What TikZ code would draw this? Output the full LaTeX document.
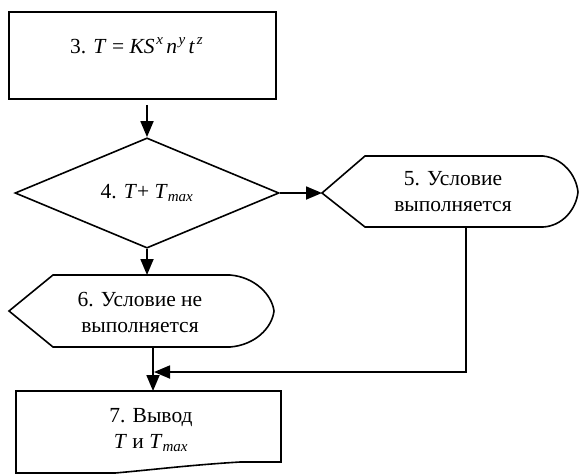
\documentclass[tikz,border=0pt]{standalone}
\usepackage{fontspec}
\setmainfont{Liberation Serif}
\usepackage{xcolor}
\usepackage{tikz}
\usetikzlibrary{arrows.meta,shapes.geometric,calc}
\definecolor{ink}{HTML}{000000}
\newcommand{\pw}[1]{\hspace{0.08em}\raisebox{0.42em}{\fontsize{15}{15}\selectfont\textit{#1}}\hspace{0.15em}}
\tikzset{
  base/.style={draw=ink, line width=1.6pt, line join=miter},
  flow/.style={draw=ink, line width=1.8pt, -{Triangle[length=16pt,width=13pt]}},
  lab/.style={text=ink, font=\fontsize{21.5}{26}\selectfont, align=center, inner sep=0pt},
}

\begin{document}
\begin{tikzpicture}[x=1pt,y=-1pt]
  \useasboundingbox (0,0) rectangle (580,475);
  % step 3
  \node[base, minimum width=267pt, minimum height=87pt, inner sep=0pt] (b3) at (142.5,55.5) {};
  \node[lab] (t3) at (138,46) {3. \textit{T} = \textit{KS}\pw{x}\textit{n}\pw{y}\textit{t}\pw{z}};
  % step 4
  \node[base, lab, diamond, minimum width=264pt, minimum height=90pt] (d4) at (147,193) {4. \textit{T}+ \textit{T}\textsubscript{\textit{max}}};
  % step 5
  \coordinate (t5w) at (322,193);
  \coordinate (t5s) at (466,227);
  \draw[base] (t5w) -- (365,156) -- (543,156) .. controls (562,158) and (576,174) .. (578,192)
    .. controls (576,210) and (562,226) .. (543,227) -- (365,227) -- cycle;
  \node[lab] (t5) at (453,192) {5. Условие\\выполняется};
  % step 6
  \coordinate (t6n) at (147,275);
  \coordinate (t6s) at (153,347);
  \draw[base] (9,311) -- (53,275) -- (230,275) .. controls (255,277) and (272,295) .. (274,311)
    .. controls (272,328) and (255,345) .. (230,347) -- (53,347) -- cycle;
  \node[lab] (t6) at (140,312) {6. Условие не\\выполняется};
  % step 7
  \coordinate (b7n) at (153,391);
  \coordinate (mrg) at (154,372);
  \draw[base] (16,473) -- (16,391) -- (281,391) -- (281,462) -- (240,462)
    .. controls (190,465) and (150,470) .. (115,473) -- cycle;
  \node[lab] (t7) at (151,430) {7. Вывод\\\textit{T} и \textit{T}\textsubscript{\textit{max}}};
  % arrows
  \draw[flow] ([yshift=-5pt]b3.south -| d4.north) -- (d4.north);
  \draw[flow] (d4.east) -- (t5w);
  \draw[flow] (d4.south) -- (t6n);
  \draw[flow] (t6s) -- (b7n);
  \draw[flow] (t5s) |- (mrg);
\end{tikzpicture}
\end{document}
